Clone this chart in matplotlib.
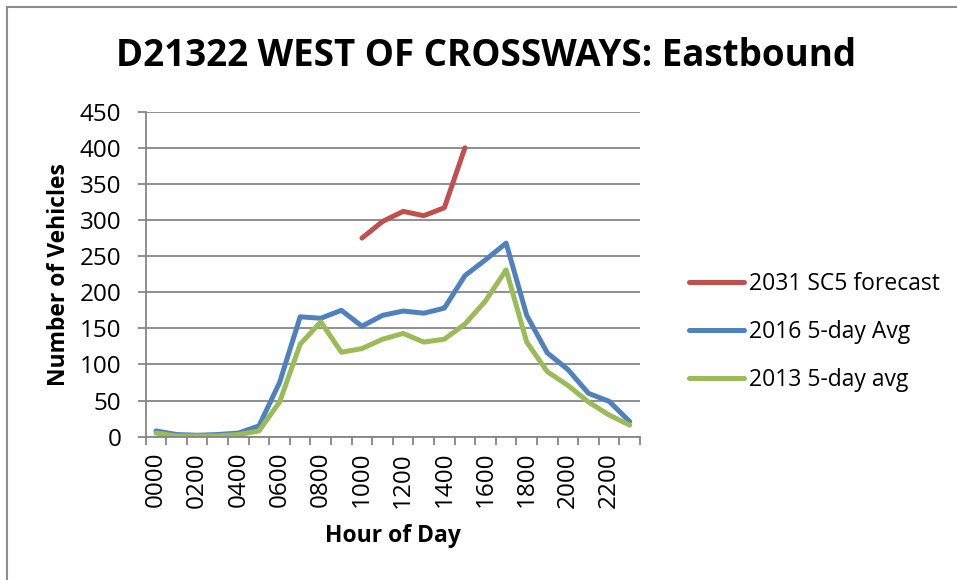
import matplotlib
matplotlib.use("Agg")
import matplotlib.pyplot as plt
from matplotlib.lines import Line2D
import numpy as np

plt.rcParams['font.family'] = ['Open Sans', 'DejaVu Sans']

hours = ["0000", "0100", "0200", "0300", "0400", "0500", "0600", "0700",
         "0800", "0900", "1000", "1100", "1200", "1300", "1400", "1500",
         "1600", "1700", "1800", "1900", "2000", "2100", "2200", "2300"]

forecast_2031 = [None, None, None, None, None, None, None, None, None, None,
                 275, 298, 312, 306, 317, 400,
                 None, None, None, None, None, None, None, None]
avg_2016 = [8, 3, 2, 3, 5, 15, 75, 166, 164, 175, 153, 168, 174, 171, 178,
            223, 245, 268, 168, 116, 93, 60, 49, 21]
avg_2013 = [5, 1, 1, 1, 3, 8, 48, 128, 159, 117, 122, 135, 143, 131, 135,
            156, 188, 231, 131, 90, 71, 48, 30, 16]

series_names = ["2031 SC5 forecast", "2016 5-day Avg", "2013 5-day avg"]
colors = ["#C0504D", "#4F81BD", "#9BBB59"]

W, H = 957, 580
fig = plt.figure(figsize=(W / 100, H / 100), dpi=100)
fig.patch.set_facecolor("white")

ax = fig.add_axes([145.7 / W, 1 - 436.7 / H, (640 - 145.7) / W, (436.7 - 111.7) / H])

x = np.arange(len(hours))
def to_arr(v):
    return np.array([np.nan if a is None else a for a in v], dtype=float)

for vals, name, c in zip([forecast_2031, avg_2016, avg_2013], series_names, colors):
    ax.plot(x, to_arr(vals), color=c, lw=3.6, label=name, solid_joinstyle='round',
            solid_capstyle='round')

ax.set_xlim(-0.5, len(hours) - 0.5)
ax.set_ylim(0, 450)
ax.set_yticks(np.arange(0, 451, 50))
ax.yaxis.grid(True, color="#868686", lw=1.3)
ax.set_axisbelow(True)

ax.set_xticks(x[::2])
ax.set_xticklabels(hours[::2], rotation=90, fontsize=17.5)
ax.set_xticks(np.arange(-0.5, len(hours), 1), minor=True)
ax.tick_params(axis='x', which='major', length=0, pad=11)
ax.tick_params(axis='x', which='minor', length=5.5, width=1.3, color="#868686", direction='out')
ax.tick_params(axis='y', length=5.5, width=1.3, color="#868686", labelsize=17.5, pad=12)

for s in ['top', 'right']:
    ax.spines[s].set_visible(False)
for s in ['left', 'bottom']:
    ax.spines[s].set_color("#868686")
    ax.spines[s].set_linewidth(1.3)

ax.set_ylabel("Number of Vehicles", fontsize=16.5, fontweight='bold', labelpad=6)
ax.set_xlabel("Hour of Day", fontsize=16.5, fontweight='bold', labelpad=12)

fig.text(486 / W, 1 - 56 / H, "D21322 WEST OF CROSSWAYS: Eastbound", ha='center', va='center',
         fontsize=26.5, fontweight='bold')

leg = ax.legend(loc='center left', bbox_to_anchor=(680 / W, 1 - 332 / H),
                bbox_transform=fig.transFigure, frameon=False, fontsize=16.5,
                handlelength=2.4, handletextpad=0.2, labelspacing=1.05, borderaxespad=0)

fig.add_artist(Line2D([6.5 / W, 6.5 / W], [0, 1 - 6.5 / H], color="#8c8c8c", lw=1.5,
                      transform=fig.transFigure))
fig.add_artist(Line2D([6.5 / W, 1], [1 - 6.5 / H, 1 - 6.5 / H], color="#8c8c8c", lw=1.5,
                      transform=fig.transFigure))

fig.savefig("out.png", dpi=100, facecolor="white")
